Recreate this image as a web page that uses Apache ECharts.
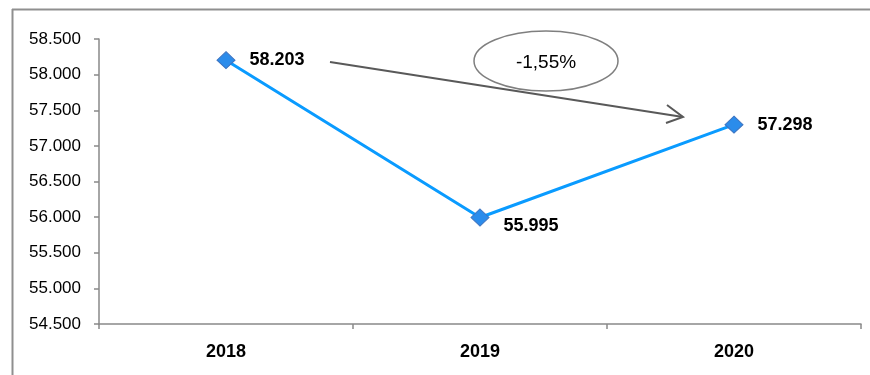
<!DOCTYPE html>
<html>
<head>
<meta charset="utf-8">
<script src="https://cdn.jsdelivr.net/npm/echarts@6/dist/echarts.min.js"></script>
<style>
html,body{margin:0;padding:0;background:#fff;}
#c{width:870px;height:375px;}
</style>
</head>
<body>
<div id="c"></div>
<script>
var categories = ['2018', '2019', '2020'];
var values = [58203, 55995, 57298];
var yMin = 54500, yMax = 58500, yStep = 500;
var changeLabel = '-1,55%';

function fmt(v) {
  return String(Math.round(v)).replace(/\B(?=(\d{3})+(?!\d))/g, '.');
}

var chart = echarts.init(document.getElementById('c'), null, {renderer: 'canvas'});
var labelPos = [
  {position: 'right', distance: 14},
  {position: 'right', distance: 14, offset: [0, 9]},
  {position: 'right', distance: 14}
];
chart.setOption({
  animation: false,
  backgroundColor: '#fff',
  grid: {left: 99, right: 9, top: 39, bottom: 51, containLabel: false},
  xAxis: {
    type: 'category',
    data: categories,
    boundaryGap: true,
    axisLine: {lineStyle: {color: '#898989', width: 1.5}},
    axisTick: {show: true, length: 5, lineStyle: {color: '#898989', width: 1.5}},
    axisLabel: {color: '#000', fontFamily: 'Liberation Sans', fontWeight: 'bold', fontSize: 18, margin: 19}
  },
  yAxis: {
    type: 'value',
    min: yMin, max: yMax, interval: yStep,
    axisLine: {show: true, lineStyle: {color: '#898989', width: 1.5}},
    axisTick: {show: true, length: 5, lineStyle: {color: '#898989', width: 1.5}},
    splitLine: {show: false},
    axisLabel: {color: '#000', fontFamily: 'Liberation Sans', fontSize: 17, margin: 18, formatter: fmt}
  },
  series: [{
    type: 'line',
    data: values.map(function (v, i) {
      return {value: v, label: labelPos[i]};
    }),
    lineStyle: {color: '#0A9BFF', width: 3},
    symbol: 'diamond',
    symbolSize: [18, 17],
    itemStyle: {color: '#2B8CEB', borderColor: '#3E74C0', borderWidth: 1},
    label: {
      show: true,
      color: '#000',
      fontFamily: 'Liberation Sans',
      fontWeight: 'bold',
      fontSize: 18,
      formatter: function (p) { return fmt(p.value); }
    }
  }],
  graphic: [
    {type: 'line', shape: {x1: 12.5, y1: 9, x2: 12.5, y2: 375}, style: {stroke: '#8f8f8f', lineWidth: 2}},
    {type: 'line', shape: {x1: 12, y1: 9.5, x2: 870, y2: 9.5}, style: {stroke: '#8f8f8f', lineWidth: 2}},
    {type: 'line', shape: {x1: 330, y1: 62, x2: 683, y2: 117}, style: {stroke: '#595959', lineWidth: 2}},
    {type: 'polyline', shape: {points: [[667, 105], [683, 117], [666, 123]]}, style: {stroke: '#595959', lineWidth: 2, fill: null}},
    {type: 'ellipse', shape: {cx: 546, cy: 61, rx: 72, ry: 30}, style: {stroke: '#7f7f7f', lineWidth: 1.5, fill: 'rgba(255,255,255,0)'}},
    {type: 'text', x: 546, y: 63, style: {text: changeLabel, font: '19px "Liberation Sans"', fill: '#000', textAlign: 'center', textVerticalAlign: 'middle'}}
  ]
});
</script>
</body>
</html>
